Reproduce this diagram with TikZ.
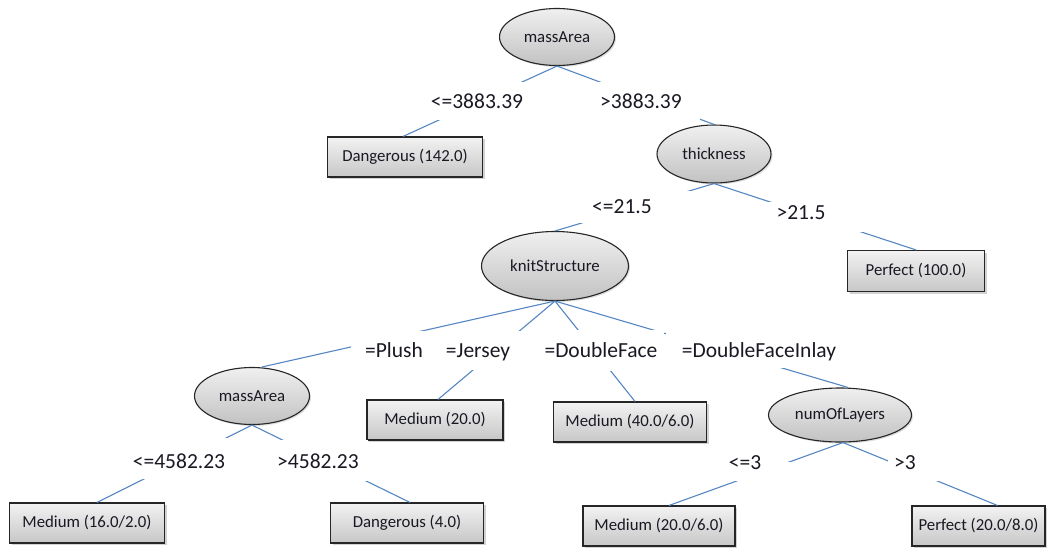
\documentclass[tikz,border=0pt]{standalone}
\usepackage{fontspec}
\setmainfont{Carlito}
\usetikzlibrary{shapes.geometric,shadows}
\definecolor{edgeblue}{RGB}{85,135,195}
\definecolor{inktext}{RGB}{25,25,35}
\tikzset{
  splitnode/.style={ellipse, draw=black!85, line width=1.1pt, top color=white!94!black, bottom color=white!76!black,
    inner sep=0pt, font=\fontsize{16.8}{19}\selectfont, text=inktext,
    drop shadow={shadow xshift=1.5pt, shadow yshift=-1.5pt, opacity=0.25}},
  leafbox/.style={rectangle, draw=black!85, line width=1.1pt, top color=white!95!black, bottom color=white!78!black,
    inner sep=0pt, minimum height=40pt, font=\fontsize{16.8}{19}\selectfont, text=inktext,
    drop shadow={shadow xshift=2pt, shadow yshift=-2pt, opacity=0.35}},
  edgelbl/.style={inner sep=0pt, text height=0.72em, text depth=0.22em,
    font=\fontsize{21.5}{24}\selectfont, text=inktext},
  branch/.style={draw=edgeblue, line width=1.1pt},
  labelmask/.style={fill=white}
}
\begin{document}
\begin{tikzpicture}[x=1pt,y=-1pt]
\useasboundingbox[fill=white] (0,0) rectangle (1052,547);
% split nodes
\node[splitnode, minimum width=115pt, minimum height=57pt] (root) at (557,37) {massArea};
\node[splitnode, minimum width=114pt, minimum height=58pt] (thick) at (714,154) {thickness};
\node[splitnode, minimum width=147pt, minimum height=69pt] (knit) at (555,266) {knitStructure};
\node[splitnode, minimum width=115pt, minimum height=57pt] (mass2) at (252,396) {massArea};
\node[splitnode, minimum width=143pt, minimum height=54pt] (numl) at (840,415) {numOfLayers};
% leaves
\node[leafbox, minimum width=155pt] (dang1) at (405,157) {Dangerous (142.0)};
\node[leafbox, minimum width=137pt, minimum height=41pt] (perf1) at (916,271) {Perfect (100.0)};
\node[leafbox, minimum width=136pt] (med20) at (435,420) {Medium (20.0)};
\node[leafbox, minimum width=153pt] (med40) at (630,422) {Medium (40.0/6.0)};
\node[leafbox, minimum width=155pt] (med16) at (87,523) {Medium (16.0/2.0)};
\node[leafbox, minimum width=153pt] (dang4) at (407,523) {Dangerous (4.0)};
\node[leafbox, minimum width=152pt] (med206) at (659,526) {Medium (20.0/6.0)};
\node[leafbox, minimum width=133pt] (perf208) at (978.5,526) {Perfect (20.0/8.0)};
% connectors
\draw[branch] (root.south) -- ([xshift=-2pt]dang1.north);
\draw[branch] (root.south) -- (thick.north);
\draw[branch] (thick.south) -- (knit.north);
\draw[branch] (thick.south) -- (perf1.north);
\draw[branch] (knit.south) -- ([xshift=10pt]mass2.north);
\draw[branch] (knit.south) -- ([xshift=3pt]med20.north);
\draw[branch] (knit.south) -- ([xshift=5pt]med40.north);
\draw[branch] (knit.south) -- ([xshift=8pt]numl.north);
\draw[branch] (mass2.south) -- ([xshift=10pt]med16.north);
\draw[branch] (mass2.south) -- ([xshift=3pt]dang4.north);
\draw[branch] ([xshift=3pt]numl.south) -- ([xshift=10pt]med206.north);
\draw[branch] ([xshift=3pt]numl.south) -- ([xshift=19pt]perf208.north);
% white backgrounds of the edge labels
\fill[labelmask] (436,82) rectangle (540,120);
\fill[labelmask] (590,82) rectangle (700,120);
\fill[labelmask] (580,191) rectangle (700,223);
\fill[labelmask] (765,202) rectangle (865,232);
\fill[labelmask] (351,331) rectangle (427,362);
\fill[labelmask] (440,331) rectangle (525,370);
\fill[labelmask] (540,330) rectangle (664,371);
\fill[labelmask] (666,333) rectangle (850,368);
\fill[labelmask] (128,438) rectangle (230,479);
\fill[labelmask] (272,440) rectangle (368,481);
\fill[labelmask] (720,462) rectangle (792,481);
\fill[labelmask] (888,460) rectangle (940,481);
% labels
\node[edgelbl] (l1) at (477,106) {<=3883.39};
\node[edgelbl] (l2) at (641,106) {>3883.39};
\node[edgelbl] (l3) at (622,211) {<=21.5};
\node[edgelbl] (l4) at (801,217) {>21.5};
\node[edgelbl] (l5) at (394,354.5) {=Plush};
\node[edgelbl] (l6) at (478,354.5) {=Jersey};
\node[edgelbl] (l7) at (601,354.5) {=DoubleFace};
\node[edgelbl] (l8) at (759,354.5) {=DoubleFaceInlay};
\node[edgelbl] (l9) at (179,465.5) {<=4582.23};
\node[edgelbl] (l10) at (318,465.5) {>4582.23};
\node[edgelbl] (l11) at (745,467) {<=3};
\node[edgelbl] (l12) at (905,467) {>3};
\end{tikzpicture}
\end{document}
